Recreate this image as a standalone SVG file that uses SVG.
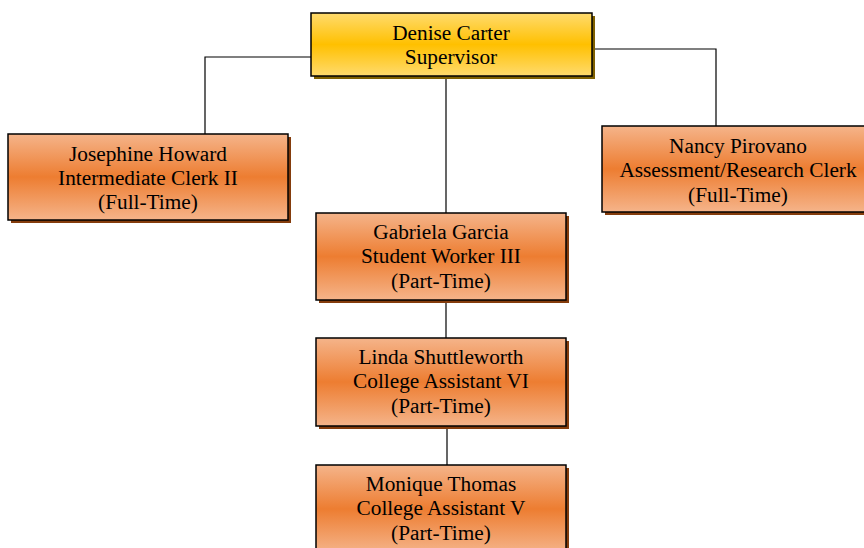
<svg xmlns="http://www.w3.org/2000/svg" width="864" height="548" viewBox="0 0 864 548">
<defs>
<linearGradient id="gOr" x1="0" y1="0" x2="0" y2="1">
<stop offset="0" stop-color="#f5b48a"/>
<stop offset="0.5" stop-color="#ed7d31"/>
<stop offset="1" stop-color="#f5b48a"/>
</linearGradient>
<linearGradient id="gYe" x1="0" y1="0" x2="0" y2="1">
<stop offset="0" stop-color="#ffdb6e"/>
<stop offset="0.5" stop-color="#ffc000"/>
<stop offset="1" stop-color="#ffdb6e"/>
</linearGradient>
<style>
.sh{fill:#843c0c}
.shy{fill:#7f6000}
.bx{fill:url(#gOr);stroke:#000;stroke-width:1.5}
.bxy{fill:url(#gYe);stroke:#000;stroke-width:1.5}
.t{font-family:"Liberation Serif","Times New Roman",serif;font-size:21.3px;fill:#000;text-anchor:middle}
.c{fill:none;stroke:#000;stroke-width:1.2}
</style>
</defs>
<g id="connectors">
<polyline class="c" points="311,57 205,57 205,134"/>
<polyline class="c" points="592,49 716,49 716,126"/>
<line class="c" x1="446" y1="76" x2="446" y2="213"/>
<line class="c" x1="446" y1="300" x2="446" y2="338"/>
<line class="c" x1="447" y1="426" x2="447" y2="465"/>
</g>
<g id="n-denise">
<rect class="shy" x="314" y="16" width="281" height="63"/>
<rect class="bxy" x="311" y="13" width="281" height="63"/>
<text class="t" x="451" y="40">Denise Carter</text>
<text class="t" x="451" y="64">Supervisor</text>
</g>
<g id="n-josephine">
<rect class="sh" x="11" y="137" width="280" height="86"/>
<rect class="bx" x="8" y="134" width="280" height="86"/>
<text class="t" x="148" y="161">Josephine Howard</text>
<text class="t" x="148" y="185">Intermediate Clerk II</text>
<text class="t" x="148" y="209">(Full-Time)</text>
</g>
<g id="n-nancy">
<rect class="sh" x="605" y="129" width="272" height="86"/>
<rect class="bx" x="602" y="126" width="272" height="86"/>
<text class="t" x="738" y="153">Nancy Pirovano</text>
<text class="t" x="738" y="177">Assessment/Research Clerk</text>
<text class="t" x="738" y="202">(Full-Time)</text>
</g>
<g id="n-gabriela">
<rect class="sh" x="319" y="216" width="250" height="87"/>
<rect class="bx" x="316" y="213" width="250" height="87"/>
<text class="t" x="441" y="239">Gabriela Garcia</text>
<text class="t" x="441" y="263">Student Worker III</text>
<text class="t" x="441" y="288">(Part-Time)</text>
</g>
<g id="n-linda">
<rect class="sh" x="319" y="341" width="250" height="88"/>
<rect class="bx" x="316" y="338" width="250" height="88"/>
<text class="t" x="441" y="364">Linda Shuttleworth</text>
<text class="t" x="441" y="388">College Assistant VI</text>
<text class="t" x="441" y="413">(Part-Time)</text>
</g>
<g id="n-monique">
<rect class="sh" x="319" y="468" width="250" height="88"/>
<rect class="bx" x="316" y="465" width="250" height="88"/>
<text class="t" x="441" y="491">Monique Thomas</text>
<text class="t" x="441" y="515">College Assistant V</text>
<text class="t" x="441" y="540">(Part-Time)</text>
</g>
</svg>
